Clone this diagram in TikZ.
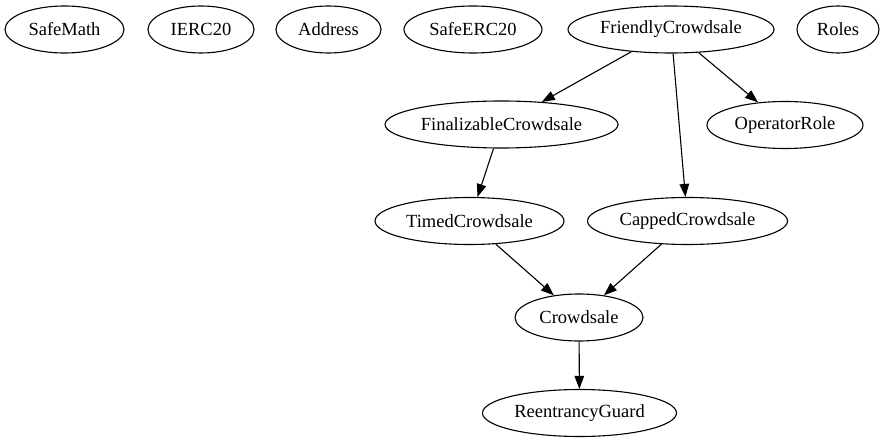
\documentclass[tikz,border=0pt]{standalone}
\usepackage{fontspec}
\setmainfont{Liberation Serif}
\usetikzlibrary{shapes.geometric,arrows.meta}
\tikzset{
  cls/.style={ellipse, draw, line width=1.1pt, inner sep=0pt, minimum height=47pt,
    font=\fontsize{18.5}{22}\selectfont},
  arr/.style={line width=1.1pt, -{Triangle[length=13pt,width=9.5pt]}},
}
\begin{document}
\begin{tikzpicture}[x=1pt,y=-1pt]
\useasboundingbox (0,0) rectangle (885,443);
\node[cls, minimum width=119pt] (safemath) at (64.5,29.5) {SafeMath};
\node[cls, minimum width=106pt] (ierc) at (201,29.5) {IERC20};
\node[cls, minimum width=105pt] (address) at (328.5,29.5) {Address};
\node[cls, minimum width=138pt] (saferc) at (473,29.5) {SafeERC20};
\node[cls, minimum width=206pt] (fc) at (671,29.5) {FriendlyCrowdsale};
\node[cls, minimum width=82pt] (roles) at (838,29.5) {Roles};
\node[cls, minimum width=233pt] (fin) at (501.5,124.5) {FinalizableCrowdsale};
\node[cls, minimum width=156pt] (op) at (785,125) {OperatorRole};
\node[cls, minimum width=189pt] (timed) at (469.5,221) {TimedCrowdsale};
\node[cls, minimum width=200pt] (capped) at (687.5,221) {CappedCrowdsale};
\node[cls, minimum width=128pt] (crowd) at (579,317.5) {Crowdsale};
\node[cls, minimum width=194pt] (reent) at (579.5,413) {ReentrancyGuard};
\draw[arr] (fc) -- (fin);
\draw[arr] (fc) -- (op);
\draw[arr] (fc) -- (capped);
\draw[arr] (fin) -- (timed);
\draw[arr] (timed) -- (crowd);
\draw[arr] (capped) -- (crowd);
\draw[arr] (crowd) -- (reent);
\end{tikzpicture}
\end{document}
